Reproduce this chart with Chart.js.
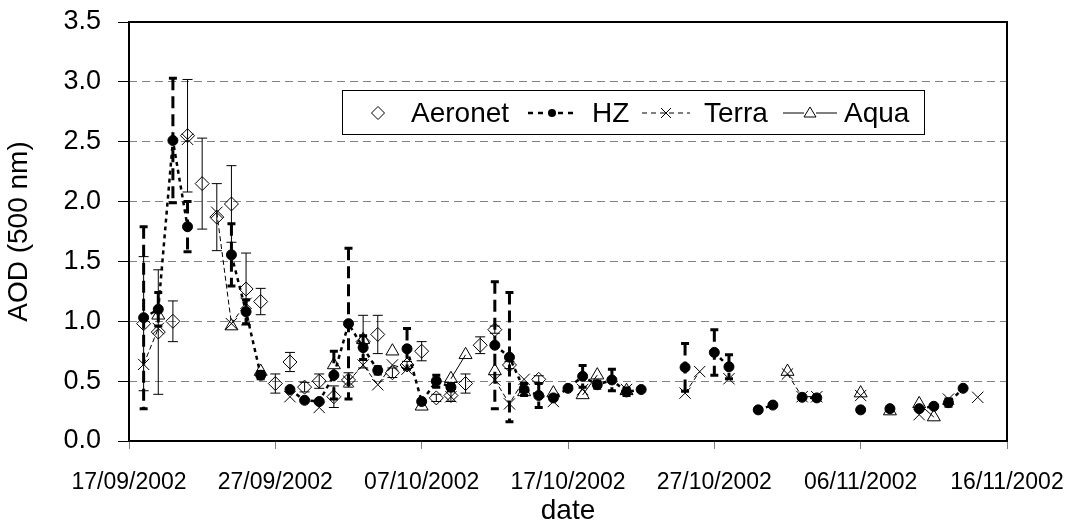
<!DOCTYPE html>
<html>
<head>
<meta charset="utf-8">
<title>AOD (500 nm)</title>
<script src="https://cdn.jsdelivr.net/npm/chart.js@4.4.1/dist/chart.umd.min.js"></script>
<style>
    body { margin: 0; background: #fff; }
    #wrap { width: 1071px; height: 525px; }
</style>
</head>
<body>
<div id="wrap"><canvas id="graficoAod" width="1071" height="525"></canvas></div>
<script>
// dias (dd/mm de 2002) e valores
const xTicks = [0, 10, 20, 30, 40, 50, 60];

const aeronetDates = ['18/09', '19/09', '20/09', '21/09', '22/09', '23/09', '24/09', '25/09', '26/09', '27/09',
    '28/09', '29/09', '30/09', '01/10', '02/10', '03/10', '04/10', '05/10', '06/10', '07/10',
    '08/10', '09/10', '10/10', '11/10', '12/10', '13/10', '15/10'];
const aeronetAod = [0.98, 0.91, 1.00, 2.55, 2.15, 1.87, 1.98, 1.27, 1.165, 0.48,
    0.66, 0.45, 0.50, 0.37, 0.51, 0.83, 0.89, 0.57, 0.635, 0.75,
    0.36, 0.38, 0.48, 0.80, 0.93, 0.635, 0.515];
const aeronetErr = [0.56, 0.52, 0.17, 0.47, 0.38, 0.28, 0.32, 0.30, 0.11, 0.08,
    0.08, 0.04, 0.06, 0.09, 0.06, 0.22, 0.16, 0.04, 0.03, 0.08,
    0.03, 0.05, 0.08, 0.07, 0.03, 0.03, 0.03];

const hzDates = ['18/09', '19/09', '20/09', '21/09', '24/09', '25/09', '26/09', '28/09', '29/09', '30/09',
    '01/10', '02/10', '03/10', '04/10', '06/10', '07/10', '08/10', '09/10', '12/10', '13/10',
    '14/10', '15/10', '16/10', '17/10', '18/10', '19/10', '20/10', '21/10', '22/10', '25/10',
    '27/10', '28/10', '30/10', '31/10', '02/11', '03/11', '06/11', '08/11', '10/11', '11/11',
    '12/11', '13/11'];
const hzAod = [1.03, 1.10, 2.51, 1.79, 1.555, 1.08, 0.55, 0.43, 0.34, 0.33,
    0.55, 0.98, 0.78, 0.59, 0.77, 0.33, 0.50, 0.45, 0.80, 0.70,
    0.43, 0.38, 0.36, 0.44, 0.54, 0.47, 0.51, 0.41, 0.43, 0.615,
    0.74, 0.62, 0.26, 0.30, 0.365, 0.36, 0.26, 0.27, 0.27, 0.29,
    0.32, 0.44];
const hzErr = [0.76, 0.14, 0.52, 0.21, 0.26, 0.10, 0.03, 0, 0, 0,
    0.20, 0.63, 0.10, 0.03, 0.17, 0, 0.05, 0.03, 0.53, 0.54,
    0.05, 0.10, 0, 0, 0.09, 0.03, 0.09, 0.03, 0, 0.20,
    0.19, 0.10, 0, 0, 0, 0, 0, 0, 0, 0,
    0.03, 0];

const terraDates = ['18/09', '19/09', '21/09', '23/09', '24/09', '25/09', '28/09', '30/09', '02/10', '03/10',
    '04/10', '05/10', '06/10', '09/10', '12/10', '13/10', '14/10', '16/10', '18/10', '21/10',
    '25/10', '26/10', '28/10', '01/11', '02/11', '03/11', '06/11', '10/11', '12/11', '14/11'];
const terraAod = [0.64, 0.94, 2.52, 1.91, 0.98, 1.15, 0.37, 0.28, 0.50, 0.635,
    0.47, 0.635, 0.60, 0.37, 0.51, 0.31, 0.515, 0.33, 0.43, 0.43,
    0.40, 0.58, 0.52, 0.56, 0.37, 0.37, 0.38, 0.22, 0.35, 0.365];

const aquaDates = ['19/09', '24/09', '26/09', '01/10', '03/10', '05/10', '07/10', '09/10', '10/10', '12/10',
    '14/10', '16/10', '18/10', '19/10', '21/10', '01/11', '06/11', '08/11', '10/11', '11/11'];
const aquaAod = [1.05, 0.96, 0.58, 0.635, 0.845, 0.75, 0.29, 0.52, 0.72, 0.585,
    0.41, 0.40, 0.385, 0.55, 0.42, 0.58, 0.40, 0.25, 0.31, 0.20];

const inicio = Date.UTC(2002, 8, 17);

function diaDe(texto) {
    let partes = texto.split('/');
    return (Date.UTC(2002, Number(partes[1]) - 1, Number(partes[0])) - inicio) / 86400000;
}

function formatarData(dia) {
    let d = new Date(inicio + dia * 86400000);
    let dd = String(d.getUTCDate()).padStart(2, '0');
    let mm = String(d.getUTCMonth() + 1).padStart(2, '0');
    return dd + '/' + mm + '/' + d.getUTCFullYear();
}

// a linha so liga dias seguidos, igual ao grafico original
function montarPontos(datas, valores) {
    let pontos = [];
    let anterior = null;
    for (let i = 0; i < datas.length; i++) {
        let x = diaDe(datas[i]);
        if (anterior !== null && x - anterior > 1) {
            pontos.push({ x: anterior + 0.5, y: null });
        }
        pontos.push({ x: x, y: valores[i] });
        anterior = x;
    }
    return pontos;
}

const fonte = "'Liberation Sans', Arial, sans-serif";

const pluginCaixa = {
    id: 'caixa',
    beforeDatasetsDraw(chart) {
        const a = chart.chartArea;
        const ctx = chart.ctx;
        ctx.save();
        ctx.strokeStyle = '#000';
        ctx.lineWidth = 2;
        ctx.strokeRect(a.left, a.top, a.right - a.left, a.bottom - a.top);
        ctx.restore();
    }
};

function desenharBarras(chart, datas, valores, erros, estilo) {
    const ctx = chart.ctx;
    const xs = chart.scales.x;
    const ys = chart.scales.y;
    for (let i = 0; i < datas.length; i++) {
        if (!erros[i]) continue;
        let px = xs.getPixelForValue(diaDe(datas[i]));
        let topo = ys.getPixelForValue(valores[i] + erros[i]);
        let base = ys.getPixelForValue(valores[i] - erros[i]);
        ctx.lineWidth = estilo.largura;
        ctx.setLineDash(estilo.traco);
        ctx.beginPath();
        ctx.moveTo(px, topo);
        ctx.lineTo(px, base);
        ctx.stroke();
        ctx.setLineDash([]);
        ctx.beginPath();
        ctx.moveTo(px - estilo.cap, topo);
        ctx.lineTo(px + estilo.cap, topo);
        ctx.moveTo(px - estilo.cap, base);
        ctx.lineTo(px + estilo.cap, base);
        ctx.stroke();
    }
}

const pluginErros = {
    id: 'barrasErro',
    afterDatasetsDraw(chart) {
        const a = chart.chartArea;
        const ctx = chart.ctx;
        ctx.save();
        ctx.beginPath();
        ctx.rect(a.left, a.top, a.right - a.left, a.bottom - a.top);
        ctx.clip();
        ctx.strokeStyle = '#000';
        desenharBarras(chart, aeronetDates, aeronetAod, aeronetErr, { largura: 1, cap: 5, traco: [] });
        desenharBarras(chart, hzDates, hzAod, hzErr, { largura: 3, cap: 4, traco: [12, 6] });
        ctx.restore();
    }
};

const pluginLegenda = {
    id: 'legendaCaixa',
    afterDraw(chart) {
        const ctx = chart.ctx;
        const cy = 113;
        ctx.save();
        ctx.fillStyle = '#fff';
        ctx.fillRect(342, 90, 583, 45);
        ctx.strokeStyle = '#000';
        ctx.lineWidth = 1;
        ctx.strokeRect(342.5, 90.5, 582, 44);

        ctx.fillStyle = '#000';
        ctx.font = '28px ' + fonte;
        ctx.textBaseline = 'middle';
        ctx.fillText('Aeronet', 411, cy + 1);
        ctx.fillText('HZ', 592, cy + 1);
        ctx.fillText('Terra', 704, cy + 1);
        ctx.fillText('Aqua', 844, cy + 1);

        // simbolos
        ctx.strokeStyle = '#000';
        ctx.fillStyle = '#fff';
        ctx.lineWidth = 1;
        Chart.helpers.drawPoint(ctx, { pointStyle: 'rectRot', radius: 6.5, borderWidth: 1 }, 378, cy);

        ctx.fillStyle = '#000';
        ctx.lineWidth = 2.5;
        ctx.setLineDash([5, 5]);
        ctx.beginPath();
        ctx.moveTo(528, cy);
        ctx.lineTo(576, cy);
        ctx.stroke();
        ctx.setLineDash([]);
        ctx.beginPath();
        ctx.arc(552, cy, 4, 0, Math.PI * 2);
        ctx.fill();

        ctx.lineWidth = 1;
        ctx.setLineDash([5, 4]);
        ctx.beginPath();
        ctx.moveTo(642, cy);
        ctx.lineTo(690, cy);
        ctx.stroke();
        ctx.setLineDash([]);
        ctx.beginPath();
        ctx.moveTo(661, cy - 5);
        ctx.lineTo(671, cy + 5);
        ctx.moveTo(671, cy - 5);
        ctx.lineTo(661, cy + 5);
        ctx.stroke();

        ctx.beginPath();
        ctx.moveTo(783, cy);
        ctx.lineTo(804, cy);
        ctx.moveTo(816, cy);
        ctx.lineTo(837, cy);
        ctx.stroke();
        ctx.beginPath();
        ctx.moveTo(810, cy - 6);
        ctx.lineTo(816, cy + 4);
        ctx.lineTo(804, cy + 4);
        ctx.closePath();
        ctx.stroke();
        ctx.restore();
    }
};

function plotarGraficoAod() {
    const dados = {
        datasets: [{
            label: 'Aeronet',
            data: montarPontos(aeronetDates, aeronetAod),
            showLine: false,
            pointStyle: 'rectRot',
            pointRadius: 7,
            pointBorderWidth: 1,
            pointBorderColor: '#000',
            pointBackgroundColor: 'rgba(255, 255, 255, 0)',
            borderColor: '#000',
            order: 4
        }, {
            label: 'HZ',
            data: montarPontos(hzDates, hzAod),
            borderColor: '#000',
            borderWidth: 2.5,
            borderDash: [4, 4],
            pointStyle: 'circle',
            pointRadius: 5,
            pointBorderWidth: 1,
            pointBorderColor: '#000',
            pointBackgroundColor: '#000',
            spanGaps: false,
            order: 1
        }, {
            label: 'Terra',
            data: montarPontos(terraDates, terraAod),
            borderColor: '#000',
            borderWidth: 1,
            borderDash: [5, 3],
            pointStyle: 'crossRot',
            pointRadius: 8,
            pointBorderWidth: 1,
            pointBorderColor: '#000',
            spanGaps: false,
            order: 2
        }, {
            label: 'Aqua',
            data: montarPontos(aquaDates, aquaAod),
            borderColor: '#000',
            borderWidth: 1,
            pointStyle: 'triangle',
            pointRadius: 7.5,
            pointBorderWidth: 1,
            pointBorderColor: '#000',
            pointBackgroundColor: 'rgba(255, 255, 255, 0)',
            spanGaps: false,
            order: 3
        }]
    };

    const config = {
        type: 'line',
        data: dados,
        options: {
            responsive: false,
            animation: false,
            devicePixelRatio: 1,
            layout: { padding: { top: 22, right: 64, left: 0, bottom: 0 } },
            plugins: {
                legend: { display: false },
                tooltip: { enabled: false }
            },
            scales: {
                x: {
                    type: 'linear',
                    min: 0,
                    max: 60,
                    afterBuildTicks: function (escala) {
                        escala.ticks = xTicks.map(function (v) { return { value: v }; });
                    },
                    afterFit: function (escala) {
                        escala.height = 84;
                        escala.paddingLeft = 0;
                        escala.paddingRight = 0;
                    },
                    ticks: {
                        color: '#000',
                        font: { family: fonte, size: 23 },
                        padding: 20,
                        maxRotation: 0,
                        autoSkip: false,
                        callback: function (v) { return formatarData(v); }
                    },
                    grid: {
                        drawOnChartArea: false,
                        tickLength: 8,
                        tickColor: '#808080',
                        color: '#808080'
                    },
                    border: { display: false },
                    title: {
                        display: true,
                        text: 'date',
                        color: '#000',
                        font: { family: fonte, size: 28, lineHeight: 1 },
                        padding: { top: 0, bottom: 0 }
                    }
                },
                y: {
                    min: 0,
                    max: 3.5,
                    afterFit: function (escala) {
                        escala.width = 129;
                        escala.paddingTop = 0;
                        escala.paddingBottom = 0;
                    },
                    ticks: {
                        stepSize: 0.5,
                        color: '#000',
                        font: { family: fonte, size: 27 },
                        padding: 17,
                        callback: function (v) { return v.toFixed(1); }
                    },
                    grid: {
                        color: '#808080',
                        lineWidth: 1,
                        tickLength: 11,
                        tickColor: '#000'
                    },
                    border: { display: false, dash: [8, 5] },
                    title: {
                        display: true,
                        text: 'AOD (500 nm)',
                        color: '#000',
                        font: { family: fonte, size: 28 },
                        padding: { top: 2, bottom: 0 }
                    }
                }
            }
        },
        plugins: [pluginCaixa, pluginErros, pluginLegenda]
    };

    let graficoAod = new Chart(document.getElementById('graficoAod'), config);
}

plotarGraficoAod();
</script>
</body>
</html>
